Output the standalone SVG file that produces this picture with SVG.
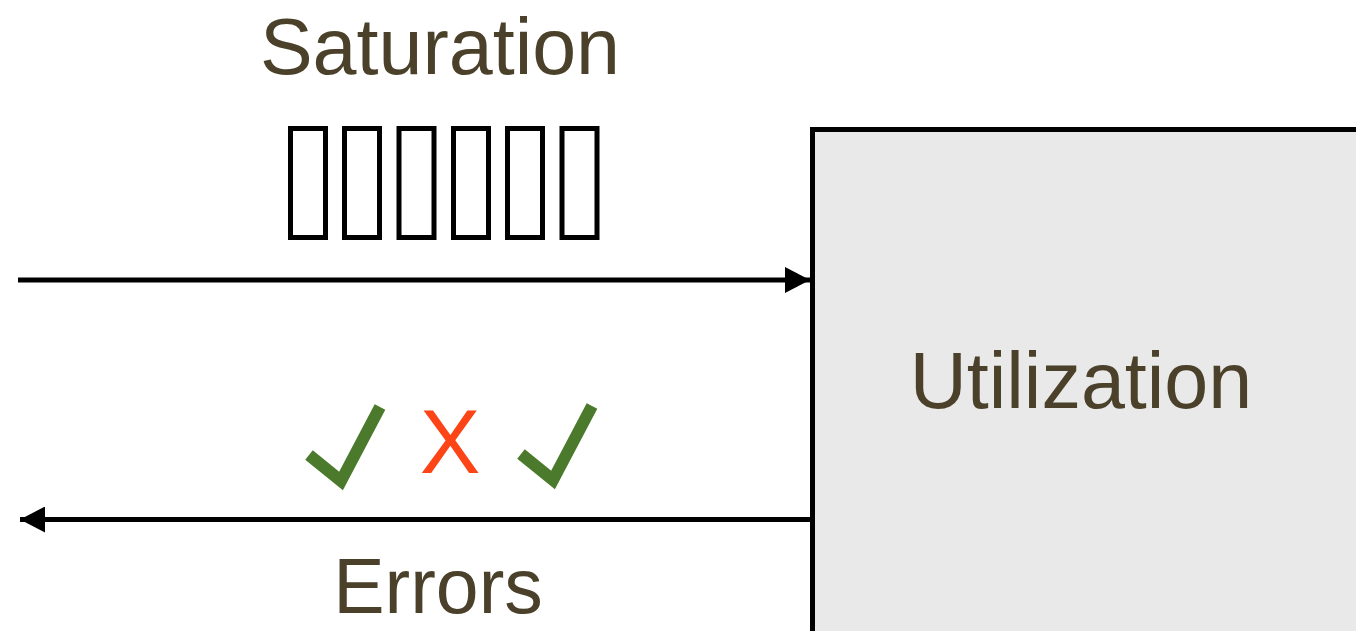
<svg xmlns="http://www.w3.org/2000/svg" width="1356" height="631" viewBox="0 0 1356 631">
  <style>
    .label { font-family: "Liberation Sans", Arial, Helvetica, sans-serif; font-size: 79px; fill: #4b412b; text-anchor: middle; }
    .slot { fill: none; stroke: #000; stroke-width: 5; }
    .flow { stroke: #000; stroke-width: 5; fill: none; }
    .ok { fill: none; stroke: #4c7a2c; stroke-width: 12; stroke-linejoin: miter; stroke-linecap: butt; }
    .fail { font-family: "Liberation Sans", Arial, Helvetica, sans-serif; font-size: 91px; fill: #fc4417; text-anchor: middle; }
  </style>
  <defs>
    <marker id="head" markerUnits="userSpaceOnUse" markerWidth="26" markerHeight="26" viewBox="0 0 25 26" refX="25" refY="13" orient="auto">
      <path d="M0,0 L25,13 L0,26 Z" fill="#000"/>
    </marker>
  </defs>

  <rect width="1356" height="631" fill="#fff"/>

  <!-- resource box -->
  <g id="utilization">
    <rect x="812.5" y="129.5" width="560" height="520" fill="#e9e9e9" stroke="#000" stroke-width="5"/>
    <text class="label" x="1081" y="408">Utilization</text>
  </g>

  <!-- queued work items -->
  <g id="saturation">
    <text class="label" x="440" y="74">Saturation</text>
    <rect class="slot" x="290.5" y="128.5" width="35" height="109"/>
    <rect class="slot" x="344.5" y="128.5" width="35" height="109"/>
    <rect class="slot" x="399" y="128.5" width="35" height="109"/>
    <rect class="slot" x="453.5" y="128.5" width="35" height="109"/>
    <rect class="slot" x="507.5" y="128.5" width="35" height="109"/>
    <rect class="slot" x="562" y="128.5" width="35" height="109"/>
  </g>

  <!-- returned results -->
  <g id="errors">
    <polyline class="ok" points="309,455 341,481 380,407"/>
    <text class="fail" x="450" y="473">X</text>
    <polyline class="ok" points="521,454 553,480 592,406"/>
    <text class="label" x="438" y="613" style="font-size:77px">Errors</text>
  </g>

  <g id="connectors">
    <line class="flow" x1="18" y1="280" x2="810" y2="280" marker-end="url(#head)"/>
    <line class="flow" x1="810" y1="519.5" x2="20" y2="519.5" marker-end="url(#head)"/>
  </g>
</svg>
